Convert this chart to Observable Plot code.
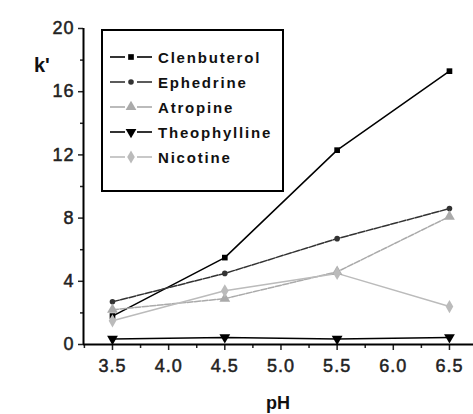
<!DOCTYPE html>
<html>
<head>
<meta charset="utf-8">
<script src="https://cdn.jsdelivr.net/npm/d3@7"></script>
<script src="https://cdn.jsdelivr.net/npm/@observablehq/plot@0.6"></script>
<style>
  html, body { margin: 0; padding: 0; background: #fff; }
  #chart { width: 473px; height: 414px; }
</style>
</head>
<body>
<div id="chart"></div>
<script>
const pH = [3.5, 4.5, 5.5, 6.5];
const seriesNames = ["Clenbuterol", "Ephedrine", "Atropine", "Theophylline", "Nicotine"];
const clenbuterol = [1.8, 5.5, 12.3, 17.3];
const ephedrine = [2.7, 4.5, 6.7, 8.6];
const atropine = [2.2, 2.9, 4.6, 8.1];
const theophylline = [0.35, 0.45, 0.35, 0.45];
const nicotine = [1.5, 3.4, 4.5, 2.4];
const yTicks = [0, 4, 8, 12, 16, 20];
const yMinor = [2, 6, 10, 14, 18];
const xTicks = [3.5, 4.0, 4.5, 5.0, 5.5, 6.0, 6.5];
const xMinor = [3.25, 3.75, 4.25, 4.75, 5.25, 5.75, 6.25];

const values = [clenbuterol, ephedrine, atropine, theophylline, nicotine];
const styles = {
  Clenbuterol: {color: "#000", symbol: "square", r: 3.2, dash: null},
  Ephedrine: {color: "#333", symbol: "circle", r: 2.8, dash: "7,1.5"},
  Atropine: {color: "#aaa", symbol: "triangle", r: 4, dash: "6,1.5"},
  Theophylline: {color: "#000", symbol: "tdown", r: 4, dash: null},
  Nicotine: {color: "#bbb", symbol: "diamond", r: 4, dash: null}
};
const triangleDown = {
  draw(context, size) {
    const y = -Math.sqrt(size / (Math.sqrt(3) * 3));
    context.moveTo(0, -y * 2);
    context.lineTo(-Math.sqrt(3) * y, y);
    context.lineTo(Math.sqrt(3) * y, y);
    context.closePath();
  }
};
function sym(name) { return name === "tdown" ? triangleDown : name; }

const xDomain = [3.242, 6.714];
const marks = [];
seriesNames.forEach((name, i) => {
  const st = styles[name];
  const data = pH.map((x, j) => ({x, y: values[i][j]}));
  marks.push(Plot.line(data, {x: "x", y: "y", stroke: st.color, strokeWidth: 1.5, strokeDasharray: st.dash}));
});
seriesNames.forEach((name, i) => {
  const st = styles[name];
  const data = pH.map((x, j) => ({x, y: values[i][j]}));
  marks.push(Plot.dot(data, {x: "x", y: "y", fill: st.color, stroke: "none", r: st.r, symbol: sym(st.symbol)}));
});

const plot = Plot.plot({
  width: 473,
  height: 414,
  marginLeft: 83,
  marginRight: 0,
  marginTop: 28,
  marginBottom: 70,
  style: {fontFamily: "'Liberation Sans', Arial, sans-serif", background: "#fff", color: "#222"},
  x: {domain: xDomain, range: [83, 473]},
  y: {domain: [0, 20]},
  marks: [
    Plot.axisY({ticks: yTicks, tickSize: 5, tickPadding: 4, tickFormat: d => String(d), label: null, fontSize: 18, strokeWidth: 1.5}),
    Plot.axisY({ticks: yMinor, tickSize: 3, tickFormat: () => "", label: null, strokeWidth: 1.5}),
    Plot.axisX({ticks: xTicks, tickSize: 6, tickPadding: 9, tickFormat: d3.format(".1f"), label: null, fontSize: 18, strokeWidth: 1.5}),
    Plot.axisX({ticks: xMinor, tickSize: 4, tickFormat: () => "", label: null, strokeWidth: 1.5}),
    Plot.ruleX([xDomain[0]], {y1: 0, y2: 20, stroke: "#000", strokeWidth: 2}),
    Plot.ruleY([0], {stroke: "#000", strokeWidth: 2}),
    ...marks
  ]
});

const svg = d3.select(plot);
svg.selectAll("[aria-label='y-axis tick label'] text, [aria-label='x-axis tick label'] text")
  .style("letter-spacing", "1px").attr("stroke", "#222").attr("stroke-width", 0.5);

// axis titles
svg.append("text").attr("x", 34).attr("y", 72).attr("font-size", 20).attr("font-weight", "bold")
  .attr("text-anchor", "start").attr("fill", "#111").text("k'");
svg.append("text").attr("x", 278).attr("y", 409).attr("text-anchor", "middle").attr("font-size", 18)
  .attr("font-weight", "bold").attr("fill", "#111").text("pH");

// legend
const lg = svg.append("g");
lg.append("rect").attr("x", 102).attr("y", 30).attr("width", 181).attr("height", 161)
  .attr("fill", "#fff").attr("stroke", "#000").attr("stroke-width", 2);
const symbolMap = {square: d3.symbolSquare, circle: d3.symbolCircle, triangle: d3.symbolTriangle, diamond: d3.symbolDiamond, tdown: triangleDown};
seriesNames.forEach((name, i) => {
  const st = styles[name];
  const cy = 57 + i * 25;
  lg.append("line").attr("x1", 110).attr("x2", 125).attr("y1", cy).attr("y2", cy)
    .attr("stroke", st.color).attr("stroke-width", 1.6);
  lg.append("line").attr("x1", 137).attr("x2", 152).attr("y1", cy).attr("y2", cy)
    .attr("stroke", st.color).attr("stroke-width", 1.6);
  lg.append("path").attr("transform", `translate(131,${cy})`)
    .attr("d", d3.symbol(symbolMap[st.symbol], Math.PI * st.r * st.r)())
    .attr("fill", st.color).attr("stroke", "none");
  lg.append("text").attr("x", 158).attr("y", cy + 5.5).attr("font-size", 15).attr("font-weight", "bold")
    .attr("text-anchor", "start").style("letter-spacing", "1.8px").attr("fill", "#111").text(name);
});

document.getElementById("chart").appendChild(plot);
</script>
</body>
</html>
